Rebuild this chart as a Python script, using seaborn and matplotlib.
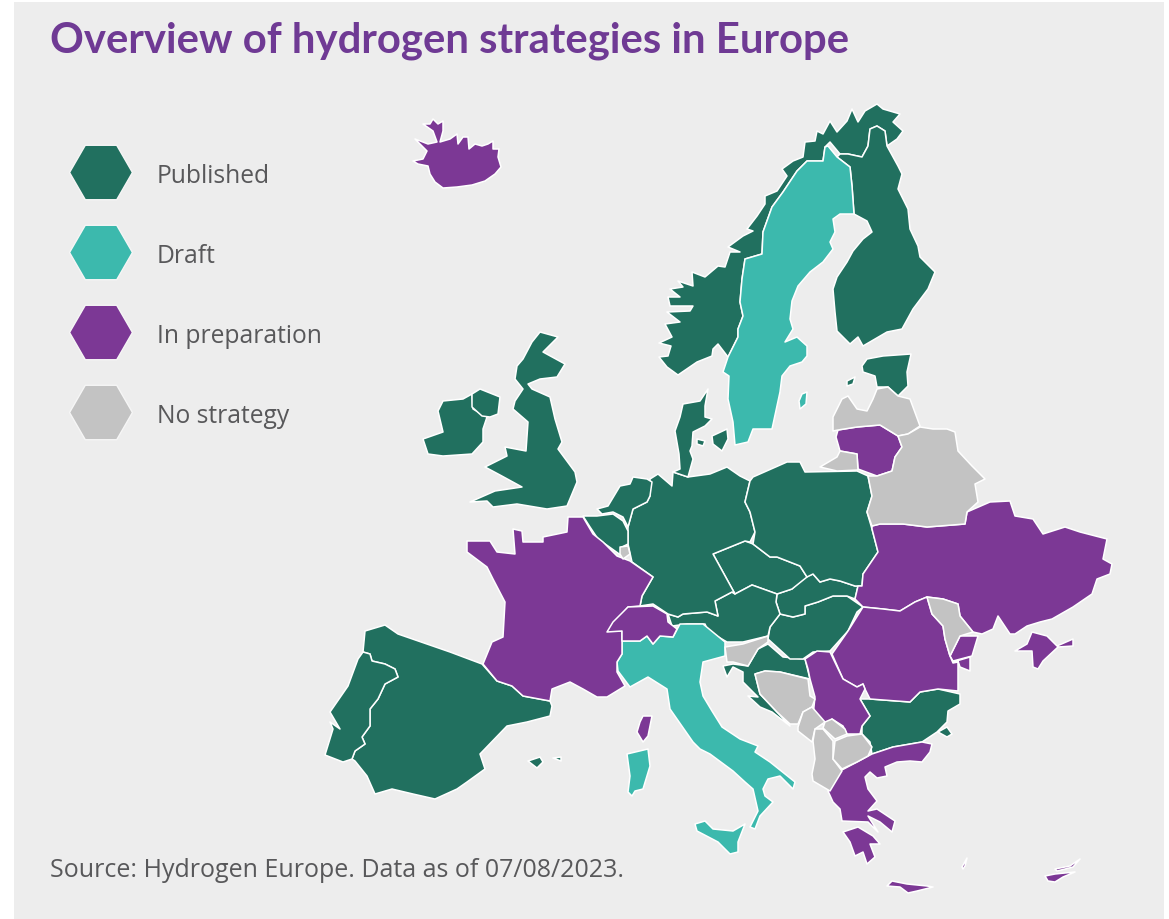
import matplotlib
matplotlib.use('Agg')
import matplotlib.pyplot as plt
import seaborn as sns
import pandas as pd

# categories + colours
statuses = ['Published', 'Draft', 'In preparation', 'No strategy']
colors = ['#21705F', '#3CB9AD', '#7C3895', '#C3C3C3']

# outlines, in pixels of the reference
iceland = [(413,162),(423,160),(427,152),(415,140),(428,145),(437,143),(433,132),(423,125),(430,125),(433,120),(438,125),(443,122),(443,132),(440,143),(450,140),(457,135),(458,145),(463,138),(468,138),(469,150),(475,145),(482,147),(488,145),(493,142),(493,150),(499,150),(498,158),(501,168),(495,175),(485,182),(472,186),(457,188),(443,189),(435,183),(430,175),(428,167),(418,165)]
norway = [(678,376),(667,368),(659,358),(668,357),(671,347),(659,344),(672,338),(665,325),(680,323),(667,313),(690,312),(693,307),(670,307),(668,298),(680,298),(670,290),(683,288),(678,282),(693,287),(692,273),(705,278),(718,267),(725,268),(730,253),(740,253),(728,248),(743,237),(753,232),(747,230),(757,217),(765,205),(765,197),(777,192),(787,177),(782,170),(793,162),(803,158),(805,143),(815,142),(817,132),(823,135),(830,122),(837,133),(847,122),(852,110),(858,123),(865,112),(877,105),(883,110),(900,115),(893,123),(903,132),(897,140),(887,147),(885,132),(877,127),(870,130),(868,147),(862,158),(848,155),(840,155),(830,143),(825,148),(823,162),(807,162),(797,172),(783,193),(772,208),(763,233),(762,255),(745,260),(742,280),(740,303),(743,317),(738,330),(738,338),(728,358),(718,345),(713,350),(712,357),(697,363)]
sweden = [(823,162),(825,148),(828,147),(837,158),(850,168),(852,187),(854,215),(840,215),(833,220),(835,233),(830,243),(833,250),(823,263),(810,273),(798,287),(792,302),(790,320),(793,330),(785,343),(797,338),(807,347),(807,357),(802,363),(790,367),(782,377),(780,393),(772,430),(753,430),(748,443),(735,446),(733,423),(728,400),(729,377),(723,373),(728,358),(738,338),(738,330),(743,317),(740,303),(742,280),(745,260),(762,255),(763,233),(772,208),(783,193),(797,172),(807,162)]
gotland = [(802,395),(807,393),(806,405),(800,410),(799,402)]
finland = [(840,155),(848,155),(862,158),(868,147),(870,130),(877,127),(885,132),(887,147),(898,167),(902,175),(898,190),(908,210),(910,230),(918,247),(920,258),(935,273),(928,290),(913,310),(902,330),(887,333),(863,347),(858,338),(850,345),(837,332),(835,313),(833,290),(837,278),(847,263),(853,252),(863,240),(872,233),(867,222),(854,215),(852,187),(850,168),(837,158)]
estonia = [(862,367),(867,360),(883,357),(911,355),(907,373),(908,387),(898,397),(888,388),(877,388),(875,377),(863,373)]
saaremaa = [(847,382),(855,378),(853,385),(847,387)]
latvia = [(833,432),(833,418),(842,400),(848,397),(857,410),(867,412),(873,400),(877,390),(888,388),(898,397),(910,400),(920,427),(908,435),(898,437),(880,426),(857,428),(838,431)]
lithuania = [(838,431),(857,428),(880,426),(898,437),(902,448),(895,458),(892,472),(877,477),(858,470),(857,455),(840,452),(836,438)]
kaliningrad = [(820,468),(837,458),(840,452),(857,455),(858,471),(837,472)]
belarus = [(898,437),(908,435),(920,428),(933,430),(947,430),(955,433),(958,452),(972,467),(985,480),(975,485),(978,503),(967,513),(965,525),(927,528),(903,525),(880,525),(872,527),(867,513),(872,497),(868,477),(877,477),(892,472),(895,458),(902,448)]
ukraine = [(872,527),(880,525),(903,525),(927,528),(965,525),(967,513),(990,503),(1010,502),(1015,517),(1033,520),(1043,535),(1065,528),(1080,533),(1107,540),(1103,560),(1112,565),(1110,575),(1097,580),(1092,595),(1073,608),(1052,620),(1040,623),(1027,627),(1015,635),(1010,635),(998,617),(993,630),(982,635),(973,633),(960,617),(958,605),(943,600),(927,598),(915,603),(900,612),(883,610),(863,608),(855,600),(858,587),(862,587),(863,575),(878,553),(872,530)]
budjak = [(960,637),(978,637),(972,657),(953,662),(950,657)]
crimea = [(1015,652),(1027,645),(1032,633),(1047,637),(1057,647),(1073,640),(1073,647),(1058,648),(1043,662),(1038,670),(1033,668),(1032,652)]
moldova = [(927,598),(943,600),(958,605),(960,617),(973,633),(960,637),(950,657),(945,640),(943,627),(932,615)]
romania = [(863,608),(883,610),(900,612),(915,603),(927,598),(932,615),(943,627),(945,640),(950,657),(953,664),(958,663),(958,692),(938,690),(920,693),(910,703),(870,700),(865,690),(863,685),(857,688),(843,680),(832,655),(848,632)]
delta = [(953,663),(970,658),(970,672),(960,668),(958,662)]
serbia = [(805,660),(817,652),(830,653),(843,680),(857,688),(863,685),(865,690),(860,700),(870,717),(862,727),(860,735),(847,735),(843,727),(832,720),(825,727),(813,717),(815,698),(810,680),(808,670)]
bulgaria = [(860,700),(870,700),(910,703),(920,693),(938,690),(960,695),(960,705),(948,712),(947,723),(937,733),(922,743),(893,748),(872,755),(870,743),(862,735),(862,727),(870,717)]
turkey = [(938,733),(947,728),(952,735),(947,738)]
greece = [(828,792),(840,772),(857,763),(872,755),(893,748),(922,743),(932,745),(930,753),(922,763),(910,762),(897,763),(885,768),(887,777),(877,779),(870,773),(865,778),(868,790),(877,802),(868,812),(877,810),(895,822),(892,833),(880,823),(868,817),(878,833),(868,823),(842,822),(840,810),(833,803)]
peloponnese = [(843,833),(858,828),(873,837),(880,845),(870,845),(875,858),(867,865),(863,853),(855,857),(850,843)]
crete = [(887,887),(892,882),(907,885),(927,887),(933,888),(917,892),(908,894),(900,888)]
rhodes = [(962,868),(967,859),(965,867),(963,870)]
cyprus = [(1045,877),(1055,875),(1075,873),(1063,878),(1055,883),(1048,882)]
cyprus_n = [(1055,870),(1070,867),(1080,860),(1073,868),(1057,872)]
bosnia = [(755,675),(765,672),(780,673),(808,680),(810,697),(815,700),(812,708),(803,713),(798,725),(790,725),(777,713),(760,695)]
montenegro = [(798,728),(803,713),(812,708),(825,723),(815,730),(812,743),(798,732)]
kosovo = [(825,723),(832,720),(845,730),(847,735),(835,740),(823,729)]
albania = [(815,730),(823,730),(833,742),(833,760),(842,772),(830,792),(813,782),(812,775),(815,760),(813,742)]
macedonia = [(835,742),(847,737),(862,735),(872,748),(868,757),(857,763),(842,770),(833,760)]
croatia = [(768,645),(783,658),(805,660),(810,680),(780,673),(765,672),(755,675),(760,695),(777,713),(790,727),(772,713),(760,708),(748,697),(758,698),(743,683),(743,673),(733,668),(727,678),(723,667),(733,665),(748,667),(758,650)]
slovenia = [(725,648),(743,645),(768,637),(768,643),(758,650),(748,667),(733,663),(727,663)]
hungary = [(768,640),(770,628),(780,615),(793,618),(805,615),(805,607),(818,603),(833,597),(847,597),(863,608),(857,613),(848,632),(830,652),(813,653),(803,660),(790,660)]
slovakia = [(777,595),(792,590),(805,578),(813,575),(820,583),(830,580),(840,582),(855,587),(858,587),(855,600),(847,597),(833,597),(818,603),(805,607),(805,615),(793,618),(780,615),(776,603)]
czechia = [(713,555),(745,542),(753,545),(770,558),(777,558),(800,567),(807,578),(792,590),(777,595),(752,586),(735,595)]
austria = [(668,615),(678,618),(683,615),(707,613),(718,617),(715,602),(732,593),(735,595),(752,586),(777,595),(776,603),(780,615),(770,628),(768,637),(743,643),(727,643),(708,632),(705,625),(687,625),(672,627)]
germany = [(650,480),(658,475),(672,487),(673,473),(688,478),(710,475),(727,468),(740,477),(750,482),(745,503),(750,513),(755,533),(750,543),(745,542),(713,555),(735,595),(732,593),(715,602),(718,617),(707,613),(683,615),(678,618),(668,615),(653,605),(640,607),(642,597),(653,578),(632,563),(628,545),(628,528),(633,510),(647,503),(650,497)]
jutland = [(675,432),(680,418),(683,405),(700,402),(708,390),(705,407),(705,418),(712,420),(705,427),(693,433),(692,447),(690,452),(693,460),(688,478),(673,473),(680,470),(679,455)]
zealand = [(712,437),(727,430),(728,440),(722,452),(713,445)]
funen = [(697,440),(705,442),(703,447),(697,445)]
poland = [(753,478),(787,463),(800,463),(805,473),(857,472),(868,477),(872,497),(867,513),(872,530),(878,553),(863,575),(862,587),(855,587),(840,582),(830,580),(820,583),(813,575),(807,578),(800,567),(777,558),(770,558),(753,545),(755,533),(750,513),(745,503),(750,482)]
netherlands = [(608,507),(620,487),(630,485),(633,478),(647,480),(652,483),(650,497),(647,503),(633,510),(628,528),(623,518),(613,513),(602,515),(597,510)]
belgium = [(583,517),(597,517),(613,515),(623,522),(628,532),(628,545),(622,548),(622,557),(608,547),(598,540),(590,528)]
luxembourg = [(620,548),(628,547),(630,555),(623,560),(620,555)]
france = [(467,542),(490,542),(497,553),(515,555),(513,530),(522,532),(523,543),(543,543),(543,538),(567,533),(568,518),(583,518),(593,535),(603,543),(617,557),(630,562),(653,578),(642,597),(640,607),(628,608),(608,632),(622,632),(622,655),(617,663),(617,673),(625,687),(607,698),(597,698),(583,690),(570,683),(552,690),(550,702),(523,697),(512,687),(497,682),(483,665),(492,643),(503,638),(505,603),(493,580),(487,568),(467,553)]
switzerland = [(607,633),(613,623),(628,608),(653,607),(667,615),(668,623),(677,630),(673,638),(660,637),(653,645),(647,637),(640,642),(622,642),(622,632)]
italy = [(622,642),(640,642),(647,637),(653,645),(660,637),(673,638),(680,625),(703,625),(725,643),(725,657),(703,663),(700,683),(703,697),(712,712),(722,728),(740,740),(758,747),(755,753),(770,763),(795,783),(793,790),(780,777),(768,780),(763,790),(765,797),(773,803),(760,817),(755,830),(750,828),(758,812),(753,790),(745,783),(733,772),(710,755),(700,750),(693,743),(670,710),(667,690),(648,678),(630,688),(618,672),(617,663),(622,655)]
sicily = [(695,825),(705,822),(713,830),(733,832),(745,825),(738,843),(738,853),(730,855),(718,843),(697,832)]
sardinia = [(627,755),(648,750),(650,767),(643,790),(635,792),(632,797),(628,793),(630,777)]
corsica = [(643,717),(652,717),(648,737),(643,743),(637,733),(640,723)]
mallorca = [(528,762),(540,758),(543,763),(537,769)]
menorca = [(553,759),(561,758),(561,762)]
spain = [(365,632),(385,626),(398,635),(450,653),(482,665),(497,682),(512,687),(523,697),(550,702),(552,707),(550,717),(527,723),(507,727),(480,755),(485,770),(467,783),(457,790),(435,800),(413,795),(392,790),(375,795),(367,777),(355,762),(352,760),(355,752),(365,745),(362,738),(370,727),(370,710),(378,700),(385,685),(398,678),(395,670),(385,665),(372,662),(370,655),(363,653)]
portugal = [(363,653),(370,655),(372,662),(385,665),(395,670),(398,678),(385,685),(378,700),(370,710),(370,727),(362,738),(365,745),(355,752),(352,760),(343,763),(325,756),(333,730),(330,723),(340,730),(330,713),(348,687),(358,660)]
britain = [(540,333),(558,338),(543,353),(565,365),(557,378),(540,380),(528,385),(532,390),(550,398),(555,420),(562,443),(558,450),(575,473),(577,483),(567,507),(547,510),(517,505),(493,508),(487,502),(470,503),(495,492),(522,488),(500,476),(485,468),(507,457),(505,448),(526,452),(528,423),(513,410),(515,402),(523,390),(515,380),(517,367),(523,360),(532,343)]
ireland = [(423,440),(443,433),(438,412),(443,402),(463,400),(472,395),(473,410),(487,418),(483,430),(483,443),(472,455),(443,457),(428,455)]
n_ireland = [(472,395),(480,390),(500,398),(498,415),(490,418),(482,417),(472,408)]

published = [norway, finland, estonia, saaremaa, turkey, bulgaria, croatia, hungary, slovakia, czechia, austria, germany,
             jutland, zealand, funen, poland, netherlands, belgium, spain, portugal, mallorca, menorca, britain, ireland, n_ireland]
draft = [sweden, gotland, italy, sicily, sardinia]
preparation = [iceland, lithuania, ukraine, budjak, crimea, romania, delta, serbia, greece, peloponnese, crete, rhodes,
               cyprus, cyprus_n, france, switzerland, corsica]
no_strategy = [latvia, kaliningrad, belarus, moldova, bosnia, montenegro, kosovo, albania, macedonia, slovenia, luxembourg]

sns.set_theme(style='white')
plt.rcParams['font.family'] = ['Open Sans', 'DejaVu Sans']

fig = plt.figure(figsize=(11.69, 9.2), dpi=100, facecolor='white')
ax = fig.add_axes([0, 0, 1, 1])
ax.set_xlim(0, 1169)
ax.set_ylim(920, 0)
ax.axis('off')

# grey panel behind everything
ax.fill_between([14, 1164], 3, 920, color='#EDEDED', lw=0, zorder=0)

for group, col in zip([published, draft, preparation, no_strategy], colors):
    for shape in group:
        xs, ys = zip(*shape)
        ax.fill(xs, ys, facecolor=col, edgecolor='white', linewidth=1.1, joinstyle='round', zorder=2)

# legend hexagons
leg = pd.DataFrame({'status': statuses, 'x': 101, 'y': [173.5, 253.5, 333.5, 413.5]})
sns.scatterplot(data=leg, x='x', y='y', hue='status', palette=colors, marker='H', s=2050,
                edgecolor='#F6F6F6', linewidth=1, legend=False, ax=ax, zorder=3)
ax.set_xlabel('')
ax.set_ylabel('')
for s, y in zip(statuses, leg['y']):
    ax.text(157, y + 3, s, fontsize=17.7, color='#58585A', va='center', ha='left')

ax.text(50, 41, 'Overview of hydrogen strategies in Europe', fontsize=30.2, fontweight='bold',
        family=['Lato', 'DejaVu Sans'], color='#6F3A94', va='center', ha='left')
ax.text(50, 871, 'Source: Hydrogen Europe. Data as of 07/08/2023.', fontsize=18, color='#58585A',
        va='center', ha='left')

fig.savefig('out.png', dpi=100, facecolor='white')
